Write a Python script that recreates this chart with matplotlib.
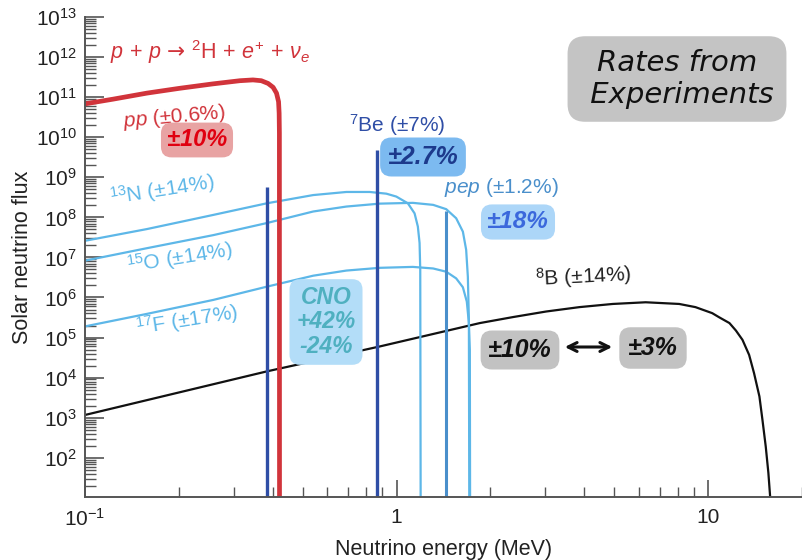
import numpy as np
import matplotlib
matplotlib.use("Agg")
import matplotlib.pyplot as plt
from matplotlib.ticker import FixedLocator, FixedFormatter, LogLocator, NullFormatter

plt.rcParams['font.family'] = ['Liberation Sans', 'DejaVu Sans']
plt.rcParams['mathtext.fontset'] = 'custom'
plt.rcParams['mathtext.rm'] = 'Liberation Sans'
plt.rcParams['mathtext.it'] = 'Liberation Sans:italic'
plt.rcParams['mathtext.bf'] = 'Liberation Sans:bold'
plt.rcParams['mathtext.sf'] = 'DejaVu Sans'

# ---------------- data ----------------
pp_E = [0.1, 0.123, 0.158, 0.201, 0.257, 0.314, 0.346, 0.368, 0.3868, 0.4015, 0.4117,
        0.418, 0.4198, 0.4206, 0.421]
pp_F = [6.8e10, 8.9e10, 1.26e11, 1.66e11, 2.14e11, 2.57e11, 2.69e11, 2.57e11, 2.2e11,
        1.76e11, 1.26e11, 7.7e10, 4.0e10, 1.26e10, 1.0]

n13_E = [0.1, 0.158, 0.258, 0.383, 0.54, 0.69, 0.82, 0.927, 0.998, 1.087, 1.142, 1.17,
         1.185, 1.191, 1.195]
n13_F = [2.6e7, 5.1e7, 1.15e8, 2.24e8, 3.6e8, 4.3e8, 4.3e8, 3.9e8, 3.3e8, 2.24e8,
         1.26e8, 5.9e7, 2.3e7, 4.9e6, 1.0]

o15_E = [0.1, 0.158, 0.258, 0.383, 0.54, 0.69, 0.883, 1.128, 1.31, 1.443, 1.553, 1.632,
         1.672, 1.693, 1.706, 1.712]
o15_F = [8.3e6, 1.7e7, 3.6e7, 7.2e7, 1.4e8, 1.86e8, 2.2e8, 2.3e8, 2.05e8, 1.6e8, 9.5e7,
         4.4e7, 1.55e7, 3.3e6, 2.8e5, 1.0]

f17_E = [0.1, 0.158, 0.258, 0.383, 0.54, 0.69, 0.883, 1.128, 1.31, 1.443, 1.553, 1.632,
         1.68, 1.706, 1.718, 1.722]
f17_F = [1.9e5, 3.9e5, 8.7e5, 1.86e6, 3.5e6, 4.7e6, 5.5e6, 5.8e6, 5.3e6, 4.4e6, 3.0e6,
         1.8e6, 7.9e5, 2.3e5, 5.0e4, 1.0]

b8_E = [0.1, 0.383, 0.883, 1.85, 2.36, 3.02, 3.86, 4.94, 6.3, 8.07, 9.1, 10.3, 10.85,
        11.7, 12.27, 12.88, 13.53, 14.03, 14.6, 14.93, 15.3, 15.6, 15.8, 15.9]
b8_F = [1.17e3, 1.43e4, 6.0e4, 2.3e5, 3.24e5, 4.47e5, 5.75e5, 6.9e5, 7.6e5, 6.9e5,
        5.75e5, 4.07e5, 3.2e5, 2.3e5, 1.5e5, 8.8e4, 3.7e4, 1.3e4, 3.4e3, 8.9e2, 1.9e2,
        42.0, 11.0, 1.0]

# line sources: energy and flux
be7_E = [0.384, 0.862]
be7_F = [5.6e8, 4.8e9]
pep_E = [1.442]
pep_F = [1.45e8]

xtick_vals = [0.1, 1, 10]
xtick_labels = [r'$10^{-1}$', '1', '10']
ytick_vals = [10.0 ** k for k in range(2, 14)]

# ---------------- colours ----------------
c_pp = '#d1343b'
c_be = '#2f4ea6'
c_pep = '#4a8fcb'
c_cno = '#5db7e8'
c_b8 = '#111111'

fig = plt.figure(figsize=(8.02, 5.6), dpi=100)
W, H = 802, 560
ax = fig.add_axes([85 / W, 63 / H, (802 - 85) / W, (497 - 17) / H])
ax.set_xscale('log')
ax.set_yscale('log')
ax.set_xlim(0.1, 20)
ax.set_ylim(10.5, 1e13)

ax.plot(b8_E, b8_F, color=c_b8, lw=1.6, solid_joinstyle='round')
ax.plot(n13_E, n13_F, color=c_cno, lw=1.6, solid_joinstyle='round')
ax.plot(o15_E, o15_F, color=c_cno, lw=1.6, solid_joinstyle='round')
ax.plot(f17_E, f17_F, color=c_cno, lw=1.6, solid_joinstyle='round')
ax.vlines(be7_E, 1.0, be7_F, color=c_be, lw=2.4)
ax.vlines(pep_E, 1.0, pep_F, color=c_pep, lw=2.2)
ax.plot(pp_E, pp_F, color=c_pp, lw=3.4, solid_joinstyle='round', solid_capstyle='butt')

for s in ['top', 'right']:
    ax.spines[s].set_visible(False)
for s in ['left', 'bottom']:
    ax.spines[s].set_color('#555555')
    ax.spines[s].set_linewidth(1.4)

ax.xaxis.set_major_locator(FixedLocator(xtick_vals))
ax.xaxis.set_major_formatter(FixedFormatter(xtick_labels))
ax.xaxis.set_minor_locator(LogLocator(base=10, subs=np.arange(2, 10), numticks=20))
ax.xaxis.set_minor_formatter(NullFormatter())
ax.yaxis.set_major_locator(FixedLocator(ytick_vals))
ax.yaxis.set_minor_locator(LogLocator(base=10, subs=np.arange(2, 10), numticks=30))
ax.yaxis.set_minor_formatter(NullFormatter())
ax.tick_params(which='major', direction='in', length=14, width=1.2, color='#555555',
               labelsize=15, labelcolor='#222222', pad=6)
ax.tick_params(which='minor', direction='in', length=8, width=1.0, color='#555555')
ax.tick_params(axis='x', which='major', length=12, pad=8)
ax.tick_params(axis='x', which='minor', length=7)

fig.text(23 / W, 1 - 257 / H, 'Solar neutrino flux', rotation=90, ha='center', va='center',
         fontsize=15.5, color='#222222')
fig.text(444 / W, 1 - 550 / H, 'Neutrino energy (MeV)', ha='center', va='center',
         fontsize=15.5, color='#222222')


def ft(x, y, s, **kw):
    return fig.text(x / W, 1 - y / H, s, **kw)

# printed labels
ft(110, 52, r'$p\,+\,p\,\mathsf{\rightarrow}\,{}^{2}\mathrm{H}\,+\,e^{+}\,+\,\nu_{e}$', color=c_pp,
   fontsize=15.5, ha='left', va='center')
ft(174, 117, r'$pp$ ($\pm$0.6%)', color=c_pp, fontsize=15, ha='center', va='center', rotation=5)
ft(397, 125, r'$^{7}$Be ($\pm$7%)', color=c_be, fontsize=15, ha='center', va='center')
ft(501, 188, r'$pep$ ($\pm$1.2%)', color=c_pep, fontsize=15, ha='center', va='center')
ft(162, 190, r'$^{13}$N ($\pm$14%)', color=c_cno, fontsize=15, ha='center', va='center', rotation=9)
ft(180, 258, r'$^{15}$O ($\pm$14%)', color=c_cno, fontsize=15, ha='center', va='center', rotation=9)
ft(187, 320, r'$^{17}$F ($\pm$17%)', color=c_cno, fontsize=15, ha='center', va='center', rotation=9)
ft(583, 277, r'$^{8}$B ($\pm$14%)', color='#222222', fontsize=15, ha='center', va='center', rotation=3)

# hand-written highlights
hand = dict(style='italic', weight='bold', ha='center', va='center',
            family=['Liberation Sans', 'DejaVu Sans'])


def box(fc, pad=0.25):
    return dict(boxstyle='round,pad=%g,rounding_size=0.45' % pad, fc=fc, ec='none')

ft(197, 140, '±10%', color='#e00010', fontsize=17, bbox=box('#e8a3a3'), **hand)
ft(423, 157, '±2.7%', color='#1d3a8c', fontsize=18, bbox=box('#7cbaf0', 0.3), **hand)
ft(518, 222, '±18%', color='#3b68dc', fontsize=17.5, bbox=box('#acd6f8'), **hand)
ft(326, 322, 'CNO\n+42%\n-24%', color='#4fb0c0', fontsize=16.5, linespacing=1.08,
   bbox=box('#b3ddf8', 0.3), **hand)
ft(520, 350, '±10%', color='#111111', fontsize=18, bbox=box('#c2c2c2', 0.3), **hand)
ft(653, 348, '±3%', color='#111111', fontsize=18, bbox=box('#c2c2c2', 0.35), **hand)
ax.annotate('', xy=(615 / W, 1 - 347 / H), xytext=(562 / W, 1 - 347 / H),
            xycoords='figure fraction', textcoords='figure fraction',
            arrowprops=dict(arrowstyle='<->', color='#111111', lw=2.2, mutation_scale=16))
ft(677, 79, 'Rates from\n Experiments', color='#111111', fontsize=21, style='italic',
   ha='center', va='center', linespacing=1.15, family=['DejaVu Sans'],
   bbox=dict(boxstyle='round,pad=0.45,rounding_size=0.6', fc='#c4c4c4', ec='none'))

fig.savefig('out.png', dpi=100)
